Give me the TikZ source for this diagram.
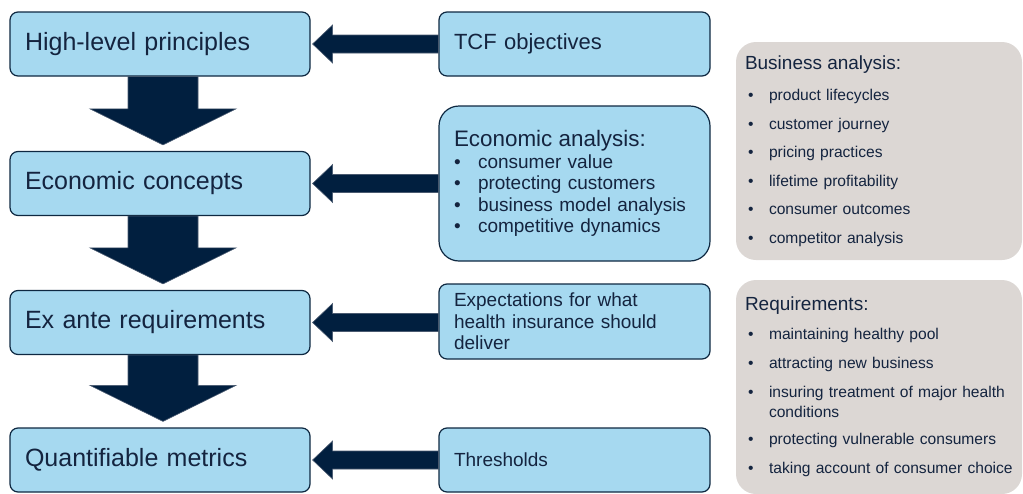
\documentclass[tikz,border=0pt]{standalone}
\usepackage{fontspec}
\setmainfont{Liberation Sans}
\usepackage{xcolor}
\usepackage{tikz}
\usetikzlibrary{calc}
\definecolor{boxblue}{HTML}{A6D9F0}
\definecolor{boxline}{HTML}{0E2841}
\definecolor{darknavy}{HTML}{011F3F}
\definecolor{navyedge}{HTML}{4A5A70}
\definecolor{textnavy}{HTML}{14243F}
\definecolor{warmgrey}{HTML}{DCD7D4}

% bullets for the two kinds of lists
\newcommand{\bl}{\makebox[24pt][l]{\textbullet}}
\newcommand{\gb}{\hspace*{3pt}\makebox[21pt][l]{\textbullet}}

% block arrow pointing down from #1 to #2
\newcommand{\flowdown}[2]{%
  \path[blockarrow] let \p1=(#1.south), \p2=(#2.north) in
    (\x1-32pt,\y1) -- (\x1-32pt,\y2+42pt) -- (\x1-70pt,\y2+42pt) -- (\x1+3pt,\y2+6pt)
    -- (\x1+76pt,\y2+42pt) -- (\x1+38pt,\y2+42pt) -- (\x1+38pt,\y1) -- cycle;}
% block arrow pointing left from #1 to #2
\newcommand{\flowleft}[2]{%
  \path[blockarrow] let \p1=(#1.west), \p2=(#2.east) in
    (\x1,\y2+9pt) -- (\x2+22pt,\y2+9pt) -- (\x2+22pt,\y2+19pt) -- (\x2+2pt,\y2)
    -- (\x2+22pt,\y2-19pt) -- (\x2+22pt,\y2-9pt) -- (\x1,\y2-9pt) -- cycle;}

\begin{document}
\begin{tikzpicture}[x=1pt, y=-1pt,
    stage/.style={draw=boxline, line width=1.2pt, fill=boxblue, rounded corners=8pt,
      text=textnavy, align=left, inner xsep=15pt, text width=270pt,
      minimum height=64pt, font=\fontsize{25}{30}\selectfont},
    source/.style={stage, text width=241pt, font=\fontsize{19}{21.5}\selectfont},
    note/.style={fill=warmgrey, rounded corners=20pt, text=textnavy, align=left,
      inner xsep=9pt, text width=268pt, font=\fontsize{15.6}{20}\selectfont},
    blockarrow/.style={fill=darknavy, draw=navyedge, line width=0.6pt}]
    \useasboundingbox (0,0) rectangle (1023,493);

    % Stages on the left
    \node[stage] (principles) at (160,44) {High-level principles};
    \node[stage] (concepts) at (160,183.5) {Economic concepts};
    \node[stage] (exante) at (160,322.5) {Ex ante requirements};
    \node[stage] (metrics) at (160,460) {Quantifiable metrics};

    % Inputs feeding each stage
    \node[source, font=\fontsize{22}{26}\selectfont] (tcf) at (574.5,44) {TCF objectives};
    \node[source, rounded corners=20pt, minimum height=155pt] (econ) at (574.5,183.5)
      {{\fontsize{22.4}{21.5}\selectfont Economic analysis:}\\
       \bl consumer value\\
       \bl protecting customers\\
       \bl business model analysis\\
       \bl competitive dynamics};
    \node[source, minimum height=75pt] (expect) at (574.5,321.5)
      {Expectations for what\\ health insurance should\\ deliver};
    \node[source] (thresh) at (574.5,460) {Thresholds};

    % Grey side notes
    \node[note, minimum height=218pt] (business) at (879,151)
      {{\fontsize{19}{20}\selectfont Business analysis:}\\[11pt]
       \gb product lifecycles\\[8.5pt]
       \gb customer journey\\[8.5pt]
       \gb pricing practices\\[8.5pt]
       \gb lifetime profitability\\[8.5pt]
       \gb consumer outcomes\\[8.5pt]
       \gb competitor analysis};
    \node[note, minimum height=214pt] (require) at (879,387)
      {{\fontsize{19}{20}\selectfont Requirements:}\\[9pt]
       \gb maintaining healthy pool\\[9pt]
       \gb attracting new business\\[9pt]
       \gb insuring treatment of major health\\
       \hspace*{24pt}conditions\\[7pt]
       \gb protecting vulnerable consumers\\[9pt]
       \gb taking account of consumer choice};

    % Arrows down the stages
    \flowdown{principles}{concepts}
    \flowdown{concepts}{exante}
    \flowdown{exante}{metrics}

    % Arrows from the inputs
    \flowleft{tcf}{principles}
    \flowleft{econ}{concepts}
    \flowleft{expect}{exante}
    \flowleft{thresh}{metrics}
\end{tikzpicture}
\end{document}
